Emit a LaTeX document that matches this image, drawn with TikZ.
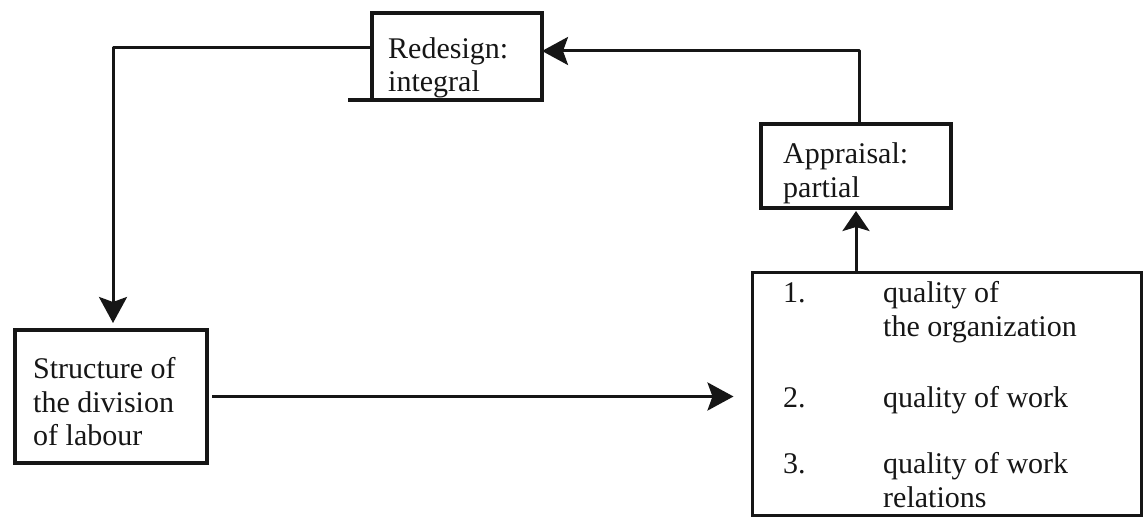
\documentclass[tikz,border=0pt]{standalone}
\usepackage{fontspec}
\setmainfont{Liberation Serif}
\usetikzlibrary{arrows.meta}
\definecolor{ink}{RGB}{22,22,22}
\begin{document}
\begin{tikzpicture}[x=1pt,y=-1pt,
  box/.style={draw=ink, line width=3.2pt, inner sep=0pt, outer sep=0pt},
  lbl/.style={anchor=base west, inner sep=0pt, text=ink,
              font=\fontsize{30}{34}\selectfont},
  arr/.style={draw=ink, line width=3pt, line join=round,
              -{Stealth[length=26pt,width=28pt,inset=5pt,fill=ink]}},
  shortarr/.style={arr, -{Stealth[length=20pt,width=27pt,inset=4pt,fill=ink]}}]
\useasboundingbox[fill=white] (0,0) rectangle (1145,518);

% boxes
\node[box, minimum width=170pt, minimum height=87pt] (redesign) at (457,56.5) {};
\node[box, minimum width=190pt, minimum height=84pt] (appraisal) at (856,166) {};
\node[box, minimum width=192pt, minimum height=133pt] (structure) at (111,396.5) {};
\node[box, minimum width=389pt, minimum height=243pt] (quality) at (947,394) {};
\draw[ink, line width=3.2pt] (redesign.south west) -- ++(-24,0);

% box texts
\node[lbl] (r1) at (388,59) {Redesign:};
\node[lbl] (r2) at (388,92) {integral};
\node[lbl] (a1) at (783,164) {Appraisal:};
\node[lbl] (a2) at (783,198) {partial};
\node[lbl] (s1) at (33,378) {Structure of};
\node[lbl] (s2) at (33,412) {the division};
\node[lbl] (s3) at (33,445) {of labour};
\node[lbl] (n1) at (783,303) {1.};
\node[lbl] (q1) at (883,303) {quality of};
\node[lbl] (q2) at (883,337) {the organization};
\node[lbl] (n2) at (783,407) {2.};
\node[lbl] (q3) at (883,407) {quality of work};
\node[lbl] (n3) at (783,473) {3.};
\node[lbl] (q4) at (883,473) {quality of work};
\node[lbl] (q5) at (883,507) {relations};

% connectors
\coordinate (topright) at (859,51);
\coordinate (topleft) at (113,48);
\draw[arr, shorten <=5pt, shorten >=19pt] (structure.east) -- (structure.east -| quality.west);
\draw[shortarr, shorten >=3pt] (appraisal.south |- quality.north) -- (appraisal.south);
\draw[arr] (appraisal.north -| topright) -- (topright) -- (topright -| redesign.east);
\draw[arr, shorten >=7pt] (topleft -| redesign.west) -- (topleft) -- (topleft |- structure.north);
\end{tikzpicture}
\end{document}
